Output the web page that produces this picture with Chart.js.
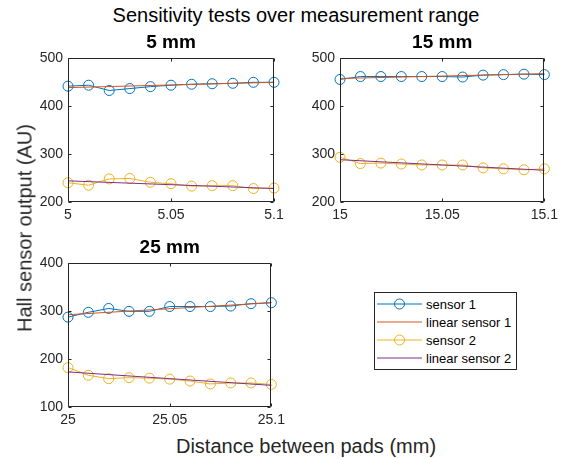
<!DOCTYPE html>
<html>
<head>
<meta charset="utf-8">
<script src="https://cdn.jsdelivr.net/npm/chart.js@4"></script>
<style>
  body { margin: 0; background: #fff; font-family: "Liberation Sans", Arial, sans-serif; }
  #fig { position: relative; width: 573px; height: 459px; overflow: hidden; }
  canvas { position: absolute; }
  .txt { position: absolute; color: #000; white-space: nowrap; }
  #suptitle { left: 296px; top: 15px; font-size: 20px; transform: translate(-50%, -50%); }
  #xlabel { left: 306px; top: 446px; font-size: 20px; color: #262626; transform: translate(-50%, -50%); }
  #ylabel { left: 25px; top: 228px; font-size: 20px; color: #262626; transform: translate(-50%, -50%) rotate(-90deg); }
  #legend { position: absolute; left: 374px; top: 292px; width: 141px; height: 74px; border: 1px solid #262626;
            background: #fff; padding-top: 2px; box-sizing: content-box; }
  #legend .row { height: 18px; display: flex; align-items: center; font-size: 13px; color: #000; }
  #legend svg { margin-left: 2px; margin-right: 4px; }
</style>
</head>
<body>
<div id="fig">
  <div id="suptitle" class="txt">Sensitivity tests over measurement range</div>
  <canvas id="c5" width="262" height="195" style="left:28px; top:31px;"></canvas>
  <canvas id="c15" width="263" height="195" style="left:300px; top:31px;"></canvas>
  <canvas id="c25" width="262" height="195" style="left:28px; top:236px;"></canvas>
  <div id="legend"></div>
  <div id="ylabel" class="txt">Hall sensor output (AU)</div>
  <div id="xlabel" class="txt">Distance between pads (mm)</div>
</div>
<script>
// MATLAB 기본 색상
const colSensor1 = '#0072BD';
const colLinear1 = '#D95319';
const colSensor2 = '#EDB120';
const colLinear2 = '#7E2F8E';

const legendLabels = ['sensor 1', 'linear sensor 1', 'sensor 2', 'linear sensor 2'];

// 5 mm
const x5 = [5, 5.01, 5.02, 5.03, 5.04, 5.05, 5.06, 5.07, 5.08, 5.09, 5.1];
const sensor1_5 = [441, 443, 432, 436, 440, 443, 445, 446, 447, 449, 449];
const sensor2_5 = [240, 235, 248, 249, 241, 238, 233, 234, 234, 228, 229];
const linX5 = [5, 5.1];
const lin1_5 = [438, 449];
const lin2_5 = [244, 228];
const xTicks5 = [5, 5.05, 5.1];
const xTickLabels5 = ['5', '5.05', '5.1'];

// 15 mm
const x15 = [15, 15.01, 15.02, 15.03, 15.04, 15.05, 15.06, 15.07, 15.08, 15.09, 15.1];
const sensor1_15 = [455, 461, 461, 461, 461, 461, 460, 464, 465, 466, 465];
const sensor2_15 = [293, 280, 281, 279, 277, 277, 277, 271, 269, 267, 269];
const linX15 = [15, 15.1];
const lin1_15 = [457, 467];
const lin2_15 = [288, 266];
const xTicks15 = [15, 15.05, 15.1];
const xTickLabels15 = ['15', '15.05', '15.1'];

// 25 mm
const x25 = [25, 25.01, 25.02, 25.03, 25.04, 25.05, 25.06, 25.07, 25.08, 25.09, 25.1];
const sensor1_25 = [287, 297, 305, 299, 299, 309, 309, 309, 310, 315, 317];
const sensor2_25 = [182, 166, 159, 161, 160, 158, 154, 148, 150, 150, 147];
const linX25 = [25, 25.1];
const lin1_25 = [292, 317];
const lin2_25 = [173, 145];
const xTicks25 = [25, 25.05, 25.1];
const xTickLabels25 = ['25', '25.05', '25.1'];

const yTicksTop = [200, 300, 400, 500];
const yTicksBottom = [100, 200, 300, 400];

const FONT = '"Liberation Sans", Arial, sans-serif';
const AXIS = '#262626';

// 박스 테두리와 안쪽 방향 눈금 (MATLAB 스타일)
const boxTicks = {
    id: 'boxTicks',
    afterDraw(chart) {
        const { ctx, chartArea: a, scales: { x, y } } = chart;
        const L = Math.round(a.left) + 0.5, R = Math.round(a.right) - 0.5;
        const T = Math.round(a.top) + 0.5, B = Math.round(a.bottom) - 0.5;
        ctx.save();
        ctx.strokeStyle = AXIS;
        ctx.lineWidth = 1;
        ctx.beginPath();
        ctx.rect(L, T, R - L, B - T);
        x.ticks.forEach(t => {
            const px = Math.round(x.getPixelForValue(t.value)) + 0.5;
            ctx.moveTo(px, B); ctx.lineTo(px, B - 3);
            ctx.moveTo(px, T); ctx.lineTo(px, T + 3);
        });
        y.ticks.forEach(t => {
            const py = Math.round(y.getPixelForValue(t.value)) + 0.5;
            ctx.moveTo(L, py); ctx.lineTo(L + 3, py);
            ctx.moveTo(R, py); ctx.lineTo(R - 3, py);
        });
        ctx.stroke();
        ctx.restore();
    }
};

function pts(xs, ys) {
    return ys.map((v, i) => ({ x: xs[i], y: v }));
}

function makePanel(id, title, xs, s1, s2, lx, l1, l2, xTicks, xLabels, yTicks) {
    const ctx = document.getElementById(id).getContext('2d');
    new Chart(ctx, {
        type: 'line',
        data: {
            datasets: [
                { label: legendLabels[0], data: pts(xs, s1), borderColor: colSensor1, borderWidth: 1,
                  pointStyle: 'circle', pointRadius: 5, pointBorderWidth: 1, pointBackgroundColor: 'rgba(0,0,0,0)',
                  pointBorderColor: colSensor1, clip: false, order: 3 },
                { label: legendLabels[1], data: pts(lx, l1), borderColor: colLinear1, borderWidth: 1,
                  pointRadius: 0, clip: false, order: 2 },
                { label: legendLabels[2], data: pts(xs, s2), borderColor: colSensor2, borderWidth: 1,
                  pointStyle: 'circle', pointRadius: 5, pointBorderWidth: 1, pointBackgroundColor: 'rgba(0,0,0,0)',
                  pointBorderColor: colSensor2, clip: false, order: 1 },
                { label: legendLabels[3], data: pts(lx, l2), borderColor: colLinear2, borderWidth: 1,
                  pointRadius: 0, clip: false, order: 0 }
            ]
        },
        options: {
            responsive: false,
            animation: false,
            events: [],
            layout: { padding: { left: 0, right: 16, top: 0, bottom: 0 } },
            scales: {
                x: {
                    type: 'linear',
                    min: xTicks[0],
                    max: xTicks[xTicks.length - 1],
                    grid: { display: false, drawTicks: false },
                    border: { display: false },
                    afterBuildTicks: s => { s.ticks = xTicks.map(v => ({ value: v })); },
                    afterFit: s => { s.height = 24; },
                    ticks: {
                        color: AXIS, padding: 5, maxRotation: 0, autoSkip: false,
                        font: { family: FONT, size: 14 },
                        callback: (v, i) => xLabels[i]
                    }
                },
                y: {
                    min: yTicks[0],
                    max: yTicks[yTicks.length - 1],
                    grid: { display: false, drawTicks: false },
                    border: { display: false },
                    afterBuildTicks: s => { s.ticks = yTicks.map(v => ({ value: v })); },
                    afterFit: s => { s.width = 40; },
                    ticks: {
                        color: AXIS, padding: 5,
                        font: { family: FONT, size: 14 },
                        callback: v => String(v)
                    }
                }
            },
            plugins: {
                legend: { display: false },
                tooltip: { enabled: false },
                title: {
                    display: true,
                    text: title,
                    fullSize: false,
                    color: '#000',
                    font: { family: FONT, size: 19, weight: 'bold' },
                    padding: { top: 0, bottom: 4 }
                }
            }
        },
        plugins: [boxTicks]
    });
}

makePanel('c5', '5 mm', x5, sensor1_5, sensor2_5, linX5, lin1_5, lin2_5, xTicks5, xTickLabels5, yTicksTop);
makePanel('c15', '15 mm', x15, sensor1_15, sensor2_15, linX15, lin1_15, lin2_15, xTicks15, xTickLabels15, yTicksTop);
makePanel('c25', '25 mm', x25, sensor1_25, sensor2_25, linX25, lin1_25, lin2_25, xTicks25, xTickLabels25, yTicksBottom);

// 범례 (선 + 원형 마커)
const legendColors = [colSensor1, colLinear1, colSensor2, colLinear2];
const legendMarker = [true, false, true, false];
const legendEl = document.getElementById('legend');
legendLabels.forEach((lab, i) => {
    const row = document.createElement('div');
    row.className = 'row';
    const c = legendColors[i];
    row.innerHTML =
        `<svg width="45" height="14"><line x1="0" y1="7" x2="45" y2="7" stroke="${c}" stroke-width="1"/>` +
        (legendMarker[i] ? `<circle cx="22.5" cy="7" r="5" fill="none" stroke="${c}" stroke-width="1"/>` : '') +
        `</svg><span>${lab}</span>`;
    legendEl.appendChild(row);
});
</script>
</body>
</html>
